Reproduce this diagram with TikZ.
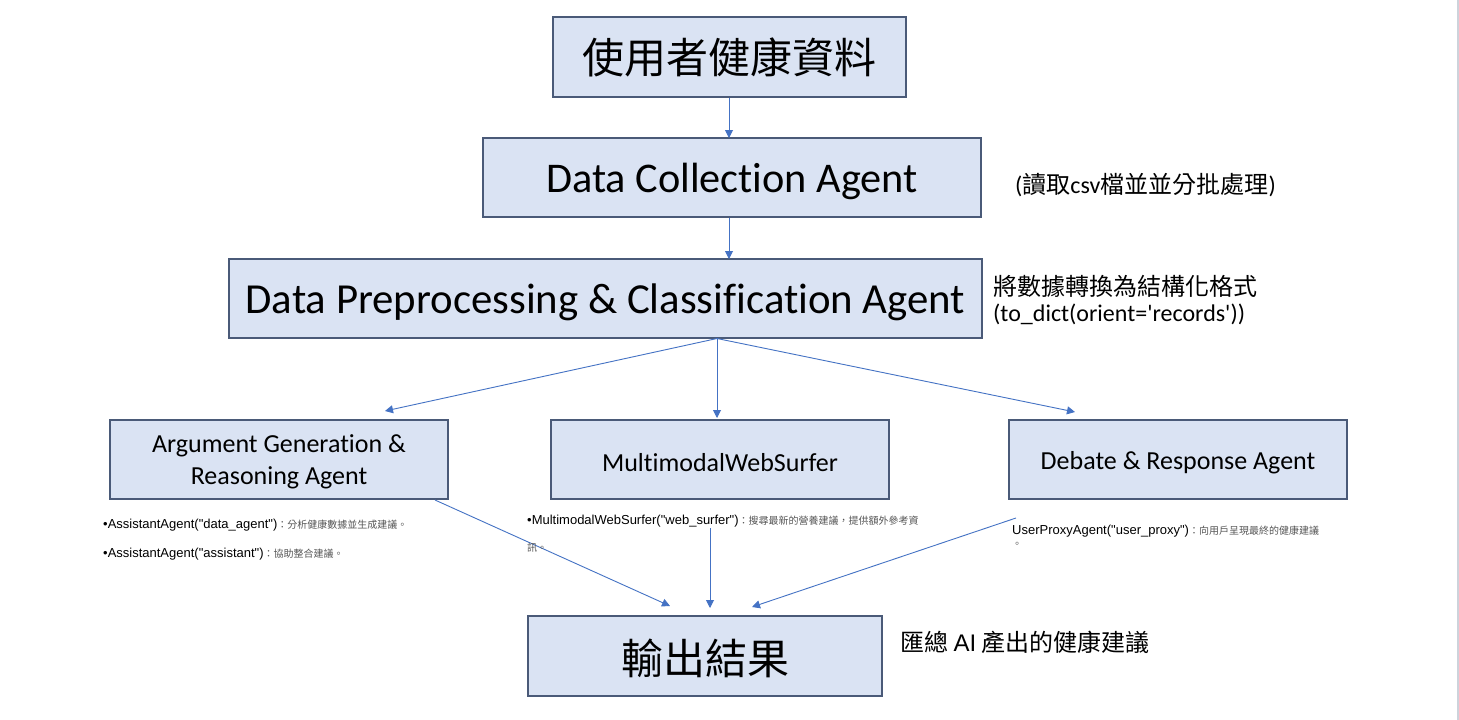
\documentclass[tikz,border=0pt]{standalone}
\usepackage{fontspec}
\setmainfont{Carlito}[Ligatures={NoCommon}]
\newfontfamily\plainc{Carlito}[Ligatures={NoCommon,TeXOff}]
\newfontfamily\cjk{Noto Sans CJK TC}
\newfontfamily\arialf{Liberation Sans}
\usetikzlibrary{arrows.meta}
\definecolor{boxfill}{HTML}{DAE3F3}
\definecolor{boxline}{HTML}{4A5A78}
\definecolor{arrowc}{HTML}{4472C4}
\definecolor{smgray}{HTML}{555555}
\definecolor{edgegray}{HTML}{CDD3DB}
\tikzset{
  agentbox/.style={draw=boxline, line width=1.6pt, fill=boxfill, inner sep=0pt, align=center, text=black},
  flow/.style={draw=arrowc, line width=0.9pt, -{Triangle[length=8pt,width=8pt]}},
  note/.style={anchor=base west, inner sep=0pt, text=black},
  small/.style={anchor=base west, inner sep=0pt, text=black, font=\arialf\fontsize{13}{15}\selectfont},
}
\newcommand{\zhs}[1]{{\cjk\fontsize{10}{12}\selectfont\color{smgray}#1}}
\newcommand{\lowr}[2]{\raisebox{-#1}[\height][\depth]{#2}}
\begin{document}
\begin{tikzpicture}[x=1pt,y=1pt]
\useasboundingbox (0,0) rectangle (1459,-720);
\fill[white] (0,0) rectangle (1459,-720);
\draw[edgegray, line width=2pt] (1457.5,0) -- (1457.5,-720);

% boxes
\node[agentbox, minimum width=353pt, minimum height=80pt, font=\cjk\fontsize{42}{50}\selectfont] (top) at (729.5,-57) {使用者健康資料};
\node[agentbox, minimum width=498pt, minimum height=79pt, font=\fontsize{42.3}{50}\selectfont] (dc) at (732,-177.5) {\lowr{4pt}{Data Collection Agent}};
\node[agentbox, minimum width=753pt, minimum height=79pt, font=\fontsize{42.8}{50}\selectfont] (dp) at (605.5,-298.5) {\lowr{4pt}{Data Preprocessing \& Classification Agent}};
\node[agentbox, minimum width=338pt, minimum height=79pt, font=\fontsize{26}{32}\selectfont] (ag) at (279,-459.5) {\lowr{3pt}{\begin{tabular}{@{}c@{}}Argument Generation \&\\Reasoning Agent\end{tabular}}};
\node[agentbox, minimum width=338pt, minimum height=79pt, font=\fontsize{26}{32}\selectfont] (mm) at (720,-459.5) {\lowr{3pt}{MultimodalWebSurfer}};
\node[agentbox, minimum width=338pt, minimum height=79pt, font=\fontsize{26}{32}\selectfont] (db) at (1178,-459.5) {\lowr{3pt}{Debate \& Response Agent}};
\node[agentbox, minimum width=354pt, minimum height=80pt, font=\cjk\fontsize{42}{50}\selectfont] (out) at (705,-656) {\lowr{2pt}{輸出結果}};

% coordinates for free ends
\coordinate (dpo) at (717,-338.5);
\coordinate (e1) at (385,-411);
\coordinate (e2) at (717,-418);
\coordinate (e3) at (1075,-412);
\coordinate (s1) at (435,-500);
\coordinate (s2) at (710,-528);
\coordinate (s3) at (1016,-518);
\coordinate (o1) at (670,-606);
\coordinate (o2) at (710,-608);
\coordinate (o3) at (752,-607);

% connectors
\draw[flow] (top.south -| 729,0) -- (729,-138);
\draw[flow] (729,-217.5) -- (729,-259);
\draw[flow] (dpo) -- (e1);
\draw[flow] (dpo) -- (e2);
\draw[flow] (dpo) -- (e3);
\draw[flow] (s1) -- (o1);
\draw[flow] (s2) -- (o2);
\draw[flow] (s3) -- (o3);

% annotations
\node[note, font=\fontsize{24}{28}\selectfont] (n1) at (1015,-193) {({\cjk 讀取}csv{\cjk 檔並並分批處理})};
\node[note, font=\cjk\fontsize{24}{28}\selectfont] (n2) at (993,-295) {將數據轉換為結構化格式};
\node[note, font=\plainc\fontsize{24}{28}\selectfont] (n3) at (993,-321) {(to\_dict(orient='records'))};
\node[note, font=\fontsize{24}{28}\selectfont] (n4) at (900,-651) {{\cjk 匯總} {\arialf AI} {\cjk 產出的健康建議}};

% small notes
\node[small] (a1) at (103,-528) {•AssistantAgent("data\_agent")\zhs{：分析健康數據並生成建議。}};
\node[small] (a2) at (103,-557) {•AssistantAgent("assistant")\zhs{：協助整合建議。}};
\node[small] (m1) at (527,-524) {•MultimodalWebSurfer("web\_surfer")\zhs{：搜尋最新的營養建議，提供額外參考資}};
\node[small] (m2) at (527,-551) {\zhs{訊。}};
\node[small] (u1) at (1012,-534) {UserProxyAgent("user\_proxy")\zhs{：向用戶呈現最終的健康建議}};
\node[small] (u2) at (1012,-547) {\zhs{。}};
\end{tikzpicture}
\end{document}
